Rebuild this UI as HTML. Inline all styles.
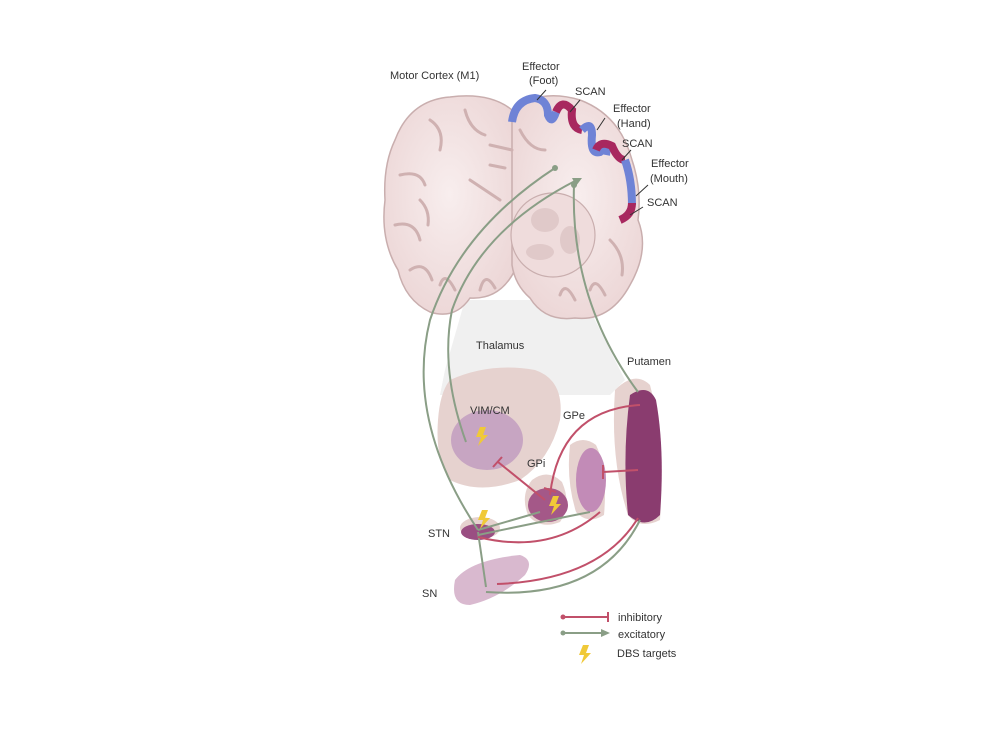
<!DOCTYPE html>
<html><head><meta charset="utf-8"><style>
html,body{margin:0;padding:0;background:#fff;}
svg{display:block;}
text{font-family:"Liberation Sans",sans-serif;font-size:11px;fill:#333;}
</style></head><body>
<svg width="1000" height="750" viewBox="0 0 1000 750">
<defs>
<radialGradient id="br" cx="50%" cy="45%" r="60%"><stop offset="0" stop-color="#f8eeee"/><stop offset="1" stop-color="#ecd6d6"/></radialGradient>
</defs>
<!-- gray cone -->
<path d="M465 300 L585 300 L625 380 L610 395 L440 395 L445 370 Z" fill="#f0f0f0"/>
<!-- left hemisphere -->
<path d="M395 140 Q410 100 450 97 Q490 92 512 110 L515 270 Q500 300 470 298 Q455 320 430 312 Q405 300 398 270 Q380 240 385 200 Q383 165 395 140 Z" fill="url(#br)" stroke="#c9aeae" stroke-width="1.5"/>
<!-- right hemisphere -->
<path d="M512 110 Q540 88 580 100 Q620 115 632 160 Q642 190 638 220 Q650 250 630 285 Q610 322 575 318 Q545 322 530 298 Q515 285 512 265 Z" fill="url(#br)" stroke="#c9aeae" stroke-width="1.5"/>
<!-- sulci -->
<g fill="none" stroke="#cfb1b1" stroke-width="3" stroke-linecap="round">
<path d="M400 175 Q420 170 425 185"/><path d="M395 225 Q415 220 420 240"/><path d="M410 270 Q425 260 432 280"/>
<path d="M430 120 Q445 130 440 150"/><path d="M465 110 Q470 130 485 135"/><path d="M470 180 L500 200"/>
<path d="M490 145 L512 150"/><path d="M520 130 Q530 150 545 150"/><path d="M610 240 Q625 255 622 275"/>
<path d="M560 295 Q565 280 575 300"/><path d="M590 290 Q595 275 605 295"/><path d="M440 285 Q445 270 455 290"/>
<path d="M480 290 Q485 270 495 288"/><path d="M490 165 L505 168"/><path d="M420 200 Q430 210 428 225"/>
</g>
<circle cx="553" cy="235" r="42" fill="#efdcdc" stroke="#c9aeae" stroke-width="1.2"/>
<g fill="#e0c9c9"><ellipse cx="545" cy="220" rx="14" ry="12"/><ellipse cx="570" cy="240" rx="10" ry="14"/><ellipse cx="540" cy="252" rx="14" ry="8"/></g>
<!-- cortex strip -->
<path d="M512 122 Q515 100 535 98 Q548 100 548 115 Q552 125 556 112" fill="none" stroke="#6f83d6" stroke-width="8"/>
<path d="M556 112 Q562 98 572 110 Q570 128 582 130" fill="none" stroke="#a8285f" stroke-width="8"/>
<path d="M582 130 Q592 120 592 135 Q590 155 600 152 Q608 145 606 155" fill="none" stroke="#6f83d6" stroke-width="8"/>
<path d="M596 150 Q600 140 612 146 Q618 160 625 160" fill="none" stroke="#a8285f" stroke-width="8"/>
<path d="M625 160 Q632 180 632 205" fill="none" stroke="#6f83d6" stroke-width="8"/>
<path d="M632 203 Q632 215 620 220" fill="none" stroke="#a8285f" stroke-width="8"/>
<!-- label leaders -->
<g stroke="#333" stroke-width="1" fill="none">
<path d="M546 90 L537 100"/><path d="M580 100 L570 112"/><path d="M605 118 L597 130"/><path d="M631 150 L622 160"/><path d="M648 185 L636 196"/><path d="M643 207 L630 215"/>
</g>
<text x="390" y="79">Motor Cortex (M1)</text>
<text x="522" y="70">Effector</text><text x="529" y="84">(Foot)</text>
<text x="575" y="95">SCAN</text>
<text x="613" y="112">Effector</text><text x="617" y="127">(Hand)</text>
<text x="622" y="147">SCAN</text>
<text x="651" y="167">Effector</text><text x="650" y="182">(Mouth)</text>
<text x="647" y="206">SCAN</text>
<!-- nuclei -->
<path d="M450 380 Q490 362 535 370 Q565 380 560 420 Q550 460 520 480 Q480 495 450 480 Q435 460 438 420 Q440 392 450 380 Z" fill="#e6d2cf"/>
<ellipse cx="487" cy="440" rx="36" ry="30" fill="#c7a5c2"/>
<path d="M532 480 Q548 468 562 482 Q572 505 560 522 Q540 530 528 515 Q520 495 532 480 Z" fill="#e6d2cf"/>
<ellipse cx="548" cy="505" rx="20" ry="17" fill="#a45888"/>
<path d="M570 445 Q583 435 596 445 Q608 470 604 515 Q588 525 576 512 Q566 480 570 445 Z" fill="#e6d2cf"/>
<ellipse cx="591" cy="480" rx="15" ry="32" fill="#c28bb7"/>
<path d="M615 390 Q635 370 650 385 Q665 440 660 520 Q640 530 628 515 Q610 460 615 390 Z" fill="#e6d2cf"/>
<path d="M630 395 Q648 383 656 400 Q665 450 660 515 Q645 530 628 515 Q622 455 630 395 Z" fill="#8a3c6f"/>
<ellipse cx="480" cy="528" rx="20" ry="11" fill="#e6d2cf"/>
<ellipse cx="478" cy="532" rx="17" ry="8" fill="#9a4e82"/>
<path d="M455 580 Q470 560 520 555 Q535 560 525 575 Q500 598 470 605 Q450 605 455 580 Z" fill="#d9b9cf"/>
<!-- green lines -->
<g fill="none" stroke="#8a9e86" stroke-width="2">
<path d="M555 168 Q460 230 430 320 Q405 420 478 530"/>
<path d="M575 181 Q480 230 452 310 Q440 370 466 442"/>
<path d="M574 185 Q570 300 638 392"/>
<path d="M478 532 L486 587"/>
<path d="M478 535 Q525 525 590 512"/>
<path d="M478 530 L540 512"/>
<path d="M486 592 Q600 600 640 520"/>
</g>
<g fill="#8a9e86"><circle cx="555" cy="168" r="3"/><circle cx="574" cy="185" r="3"/><path d="M582 178 L572 178 L576 186 Z"/></g>
<!-- red lines -->
<g fill="none" stroke="#c1506a" stroke-width="2">
<path d="M498 462 L545 500"/>
<path d="M640 405 Q560 410 550 495"/>
<path d="M638 470 L603 472"/>
<path d="M600 512 Q550 555 478 537"/>
<path d="M638 518 Q600 580 497 584"/>
</g>
<g stroke="#c1506a" stroke-width="2"><path d="M493 467 L502 457"/><path d="M544 488 L556 492"/><path d="M603 465 L603 479"/></g>
<!-- bolts -->
<g fill="#f0c938"><path d="M480 427 L486 427 L483 435 L488 435 L478 446 L481 437 L476 437 Z"/>
<path d="M553 496 L559 496 L556 504 L561 504 L551 515 L554 506 L549 506 Z"/>
<path d="M482 510 L488 510 L485 518 L490 518 L480 529 L483 520 L478 520 Z"/>
<path d="M583 645 L589 645 L586 653 L591 653 L581 664 L584 655 L579 655 Z"/></g>
<text x="476" y="349">Thalamus</text>
<text x="627" y="365">Putamen</text>
<text x="470" y="414">VIM/CM</text>
<text x="563" y="419">GPe</text>
<text x="527" y="467">GPi</text>
<text x="428" y="537">STN</text>
<text x="422" y="597">SN</text>
<!-- legend -->
<path d="M563 617 L608 617" stroke="#c1506a" stroke-width="2"/><circle cx="563" cy="617" r="2.5" fill="#c1506a"/><path d="M608 612 L608 622" stroke="#c1506a" stroke-width="2"/>
<path d="M563 633 L603 633" stroke="#8a9e86" stroke-width="2"/><circle cx="563" cy="633" r="2.5" fill="#8a9e86"/><path d="M610 633 L601 629 L601 637 Z" fill="#8a9e86"/>
<text x="618" y="621">inhibitory</text>
<text x="618" y="638">excitatory</text>
<text x="617" y="657">DBS targets</text>
</svg>
</body></html>
